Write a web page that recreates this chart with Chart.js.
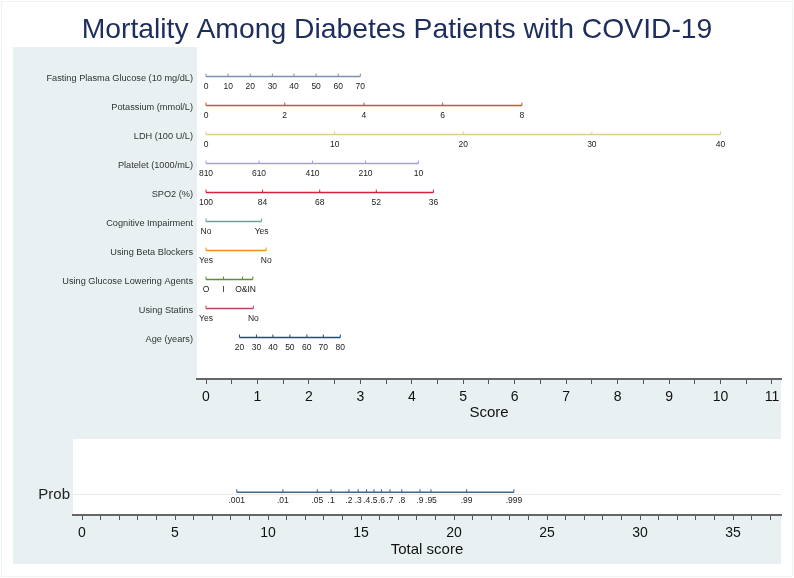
<!DOCTYPE html>
<html>
<head>
<meta charset="utf-8">
<script src="https://cdn.jsdelivr.net/npm/chart.js@4.4.1/dist/chart.umd.min.js"></script>
<style>
  body { margin: 0; background: #ffffff; }
  #quadro { position: relative; width: 794px; height: 578px; }
  #borda { position: absolute; left: 1px; top: 1px; width: 790px; height: 574px; border: 1px solid #eef4f5; }
  canvas { position: absolute; left: 0; }
  #nomograma { top: 0; }
  #probabilidade { top: 427px; }
</style>
</head>
<body>
<div id="quadro">
  <div id="borda"></div>
  <canvas id="nomograma" width="794" height="427"></canvas>
  <canvas id="probabilidade" width="794" height="151"></canvas>
</div>
<script>

// Nome de cada variável (uma linha do nomograma)
const nomesLinhas = [
  'Fasting Plasma Glucose (10 mg/dL)',
  'Potassium (mmol/L)',
  'LDH (100 U/L)',
  'Platelet (1000/mL)',
  'SPO2 (%)',
  'Cognitive Impairment',
  'Using Beta Blockers',
  'Using Glucose Lowering Agents',
  'Using Statins',
  'Age (years)',
];

// Rótulos de cada marca e a pontuação (eixo Score) onde ela cai
const rotulosGlicose = ['0', '10', '20', '30', '40', '50', '60', '70'];
const pontosGlicose = [0, 0.43, 0.86, 1.29, 1.71, 2.14, 2.57, 3.0];

const rotulosPotassio = ['0', '2', '4', '6', '8'];
const pontosPotassio = [0, 1.53, 3.07, 4.6, 6.14];

const rotulosLDH = ['0', '10', '20', '30', '40'];
const pontosLDH = [0, 2.5, 5.0, 7.5, 10.0];

const rotulosPlaquetas = ['810', '610', '410', '210', '10'];
const pontosPlaquetas = [0, 1.03, 2.07, 3.1, 4.13];

const rotulosSPO2 = ['100', '84', '68', '52', '36'];
const pontosSPO2 = [0, 1.1, 2.21, 3.31, 4.42];

const rotulosCognitivo = ['No', 'Yes'];
const pontosCognitivo = [0, 1.08];

const rotulosBeta = ['Yes', 'No'];
const pontosBeta = [0, 1.17];

const rotulosHipoglicemiantes = ['O', 'I', 'O&I', 'N'];
const pontosHipoglicemiantes = [0, 0.34, 0.71, 0.91];

const rotulosEstatinas = ['Yes', 'No'];
const pontosEstatinas = [0, 0.92];

const rotulosIdade = ['20', '30', '40', '50', '60', '70', '80'];
const pontosIdade = [0.65, 0.98, 1.3, 1.63, 1.96, 2.28, 2.61];

// Escala de probabilidade sobre o eixo Total score
const rotulosProb = ['.001', '.01', '.05', '.1', '.2', '.3', '.4', '.5', '.6', '.7', '.8', '.9', '.95', '.99', '.999'];
const pontosProb = [8.32, 10.8, 12.65, 13.39, 14.35, 14.85, 15.3, 15.7, 16.1, 16.56, 17.19, 18.17, 18.76, 20.68, 23.22];

// Limites dos eixos
const maxEixoScore = 11;
const maxEixoTotal = 37;

// ======== Estilo ========
const fonte = '"Liberation Sans", Arial, sans-serif';
const corFundo = '#e8f0f2';

const coresLinhas = [
  '#7b8fb3', '#c05a30', '#d9cf8f', '#a79cf2', '#d3223f',
  '#6f9e95', '#f09020', '#5e8c31', '#b4485b', '#1f4d7c',
];

const linhas = [
  { rotulos: rotulosGlicose, pontos: pontosGlicose },
  { rotulos: rotulosPotassio, pontos: pontosPotassio },
  { rotulos: rotulosLDH, pontos: pontosLDH },
  { rotulos: rotulosPlaquetas, pontos: pontosPlaquetas },
  { rotulos: rotulosSPO2, pontos: pontosSPO2 },
  { rotulos: rotulosCognitivo, pontos: pontosCognitivo },
  { rotulos: rotulosBeta, pontos: pontosBeta },
  { rotulos: rotulosHipoglicemiantes, pontos: pontosHipoglicemiantes },
  { rotulos: rotulosEstatinas, pontos: pontosEstatinas },
  { rotulos: rotulosIdade, pontos: pontosIdade },
];

// ======== Plugins ========

// Pinta o fundo azul-claro e a área do gráfico em branco
const pluginFundo = {
  id: 'fundo',
  beforeDraw(chart, args, opts) {
    const { ctx, chartArea } = chart;
    ctx.save();
    ctx.fillStyle = corFundo;
    ctx.fillRect(opts.x, opts.y, opts.w, opts.h);
    ctx.fillStyle = '#ffffff';
    ctx.fillRect(chartArea.left, chartArea.top, chartArea.width, chartArea.height);
    ctx.restore();
  },
};

// Desenha as marquinhas para cima e o texto embaixo de cada ponto
const pluginMarcas = {
  id: 'marcas',
  afterDatasetsDraw(chart, args, opts) {
    const ctx = chart.ctx;
    ctx.save();
    chart.data.datasets.forEach((ds, i) => {
      const meta = chart.getDatasetMeta(i);
      meta.data.forEach((pt, j) => {
        ctx.strokeStyle = ds.borderColor;
        ctx.lineWidth = 1;
        ctx.beginPath();
        ctx.moveTo(pt.x, pt.y);
        ctx.lineTo(pt.x, pt.y - opts.alturaMarca);
        ctx.stroke();

        ctx.fillStyle = '#222222';
        ctx.font = opts.fonteTexto;
        ctx.textAlign = 'center';
        ctx.textBaseline = 'middle';
        ctx.fillText(ds.rotulos[j], pt.x, pt.y + opts.deslocTexto);
      });
    });
    ctx.restore();
  },
};

// Gera as marcas do eixo (uma a cada passo)
function marcasEixo(max, passo) {
  const lista = [];
  for (let v = 0; v <= max + 1e-9; v += passo) lista.push({ value: Math.round(v * 10) / 10 });
  return lista;
}

// ======== Nomograma (parte de cima) ========
new Chart(document.getElementById('nomograma'), {
  type: 'scatter',
  data: {
    datasets: linhas.map((l, i) => ({
      data: l.pontos.map((p) => ({ x: p, y: i })),
      rotulos: l.rotulos,
      borderColor: coresLinhas[i],
      borderWidth: 1.5,
      showLine: true,
      pointRadius: 0,
      pointHoverRadius: 0,
    })),
  },
  options: {
    responsive: false,
    animation: false,
    devicePixelRatio: 1,
    layout: { padding: { left: 13, right: 13, top: 0, bottom: 0 } },
    plugins: {
      legend: { display: false },
      tooltip: { enabled: false },
      title: {
        display: true,
        text: 'Mortality Among Diabetes Patients with COVID-19',
        color: '#1d2d5c',
        font: { family: fonte, size: 28.3, weight: 'normal' },
        padding: { top: 13, bottom: 0 },
      },
      fundo: { x: 13, y: 47, w: 768, h: 380 },
      marcas: { alturaMarca: 3, deslocTexto: 10, fonteTexto: '8.5px ' + fonte },
    },
    scales: {
      x: {
        type: 'linear',
        min: -0.175,
        max: 11.176,
        afterBuildTicks: (s) => { s.ticks = marcasEixo(maxEixoScore, 0.5); },
        afterFit: (s) => { s.height = 48; },
        ticks: {
          autoSkip: false,
          maxRotation: 0,
          padding: 5,
          color: '#111111',
          font: { family: fonte, size: 14 },
          callback: (v) => (Number.isInteger(v) ? v : ''),
        },
        grid: { drawOnChartArea: false, tickLength: 5, color: '#555555' },
        border: { color: '#666666', width: 2 },
        title: {
          display: true,
          text: 'Score',
          color: '#111111',
          font: { family: fonte, size: 15 },
          padding: { top: 0, bottom: 5 },
        },
      },
      y: {
        type: 'linear',
        reverse: true,
        min: -1.02,
        max: 10.43,
        afterBuildTicks: (s) => { s.ticks = nomesLinhas.map((_, i) => ({ value: i })); },
        afterFit: (s) => { s.width = 184; },
        ticks: {
          autoSkip: false,
          padding: 4,
          labelOffset: 2,
          color: '#333333',
          font: { family: fonte, size: 9.2 },
          callback: (v) => nomesLinhas[v],
        },
        grid: { display: false, drawTicks: false },
        border: { display: false },
      },
    },
  },
  plugins: [pluginFundo, pluginMarcas],
});

// ======== Escala de probabilidade (parte de baixo) ========
new Chart(document.getElementById('probabilidade'), {
  type: 'scatter',
  data: {
    datasets: [
      {
        data: pontosProb.map((p) => ({ x: p, y: 0 })),
        rotulos: rotulosProb,
        borderColor: '#3f6591',
        borderWidth: 1.5,
        showLine: true,
        pointRadius: 0,
        pointHoverRadius: 0,
      },
    ],
  },
  options: {
    responsive: false,
    animation: false,
    devicePixelRatio: 1,
    layout: { padding: { left: 13, right: 13, top: 0, bottom: 14 } },
    plugins: {
      legend: { display: false },
      tooltip: { enabled: false },
      fundo: { x: 13, y: 0, w: 768, h: 137 },
      marcas: { alturaMarca: 3, deslocTexto: 8, fonteTexto: '8.5px ' + fonte },
    },
    scales: {
      x: {
        type: 'linear',
        min: -0.484,
        max: 37.58,
        afterBuildTicks: (s) => { s.ticks = marcasEixo(maxEixoTotal, 1); },
        afterFit: (s) => { s.height = 49; },
        ticks: {
          autoSkip: false,
          maxRotation: 0,
          padding: 5,
          color: '#111111',
          font: { family: fonte, size: 14 },
          callback: (v) => (v % 5 === 0 ? v : ''),
        },
        grid: { drawOnChartArea: false, tickLength: 5, color: '#555555' },
        border: { color: '#666666', width: 2 },
        title: {
          display: true,
          text: 'Total score',
          color: '#111111',
          font: { family: fonte, size: 15 },
          padding: { top: 0, bottom: 5 },
        },
      },
      y: {
        type: 'linear',
        min: -0.3,
        max: 0.7,
        afterBuildTicks: (s) => { s.ticks = [{ value: -0.035 }]; },
        afterFit: (s) => { s.width = 60; },
        ticks: {
          padding: 3,
          color: '#222222',
          font: { family: fonte, size: 15 },
          callback: () => 'Prob',
        },
        grid: { drawTicks: false, color: '#e8eaea' },
        border: { display: false },
      },
    },
  },
  plugins: [pluginFundo, pluginMarcas],
});
</script>
</body>
</html>
